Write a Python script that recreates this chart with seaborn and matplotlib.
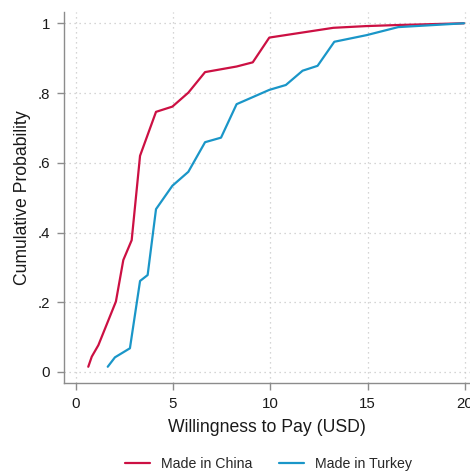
import matplotlib
matplotlib.use("Agg")
import matplotlib.pyplot as plt
from matplotlib.ticker import FixedLocator, FixedFormatter
import seaborn as sns
import pandas as pd

# Empirical CDF of willingness to pay, by stated country of origin
china_wtp = [0.65, 0.83, 1.17, 2.07, 2.45, 2.88, 3.31, 4.13, 4.97, 5.79,
             6.65, 8.27, 9.10, 9.95, 13.24, 14.95, 16.56, 19.95]
china_cdf = [0.015, 0.044, 0.077, 0.202, 0.321, 0.378, 0.620, 0.746, 0.761, 0.801,
             0.860, 0.876, 0.888, 0.959, 0.987, 0.992, 0.995, 1.0]

turkey_wtp = [1.65, 2.02, 2.79, 3.31, 3.70, 4.13, 4.97, 5.79, 6.65, 7.47,
              8.27, 9.95, 10.80, 11.66, 12.43, 13.29, 14.95, 16.57, 19.95]
turkey_cdf = [0.015, 0.042, 0.068, 0.261, 0.278, 0.467, 0.534, 0.574, 0.659, 0.672,
              0.768, 0.809, 0.823, 0.864, 0.878, 0.947, 0.966, 0.989, 1.0]

groups = ["Made in China", "Made in Turkey"]
x_ticks = [0, 5, 10, 15, 20]
x_tick_labels = ["0", "5", "10", "15", "20"]
y_ticks = [0, 0.2, 0.4, 0.6, 0.8, 1.0]
y_tick_labels = ["0", ".2", ".4", ".6", ".8", "1"]

df = pd.concat([
    pd.DataFrame({"wtp": china_wtp, "cdf": china_cdf, "group": groups[0]}),
    pd.DataFrame({"wtp": turkey_wtp, "cdf": turkey_cdf, "group": groups[1]}),
], ignore_index=True)

sns.set_theme(style="white")
plt.rcParams["font.family"] = ["Liberation Sans", "DejaVu Sans"]

fig = plt.figure(figsize=(4.70, 4.71), dpi=100)
ax = fig.add_axes([0.1362, 0.1875, 0.8638, 0.7864])

palette = {groups[0]: "#cc1043", groups[1]: "#1a96c8"}
sns.lineplot(data=df, x="wtp", y="cdf", hue="group", palette=palette,
             estimator=None, sort=True, linewidth=1.6, ax=ax, legend=False)

ax.set_xlim(-0.596, 20.26)
ax.set_ylim(-0.0307, 1.0315)

ax.xaxis.set_major_locator(FixedLocator(x_ticks))
ax.xaxis.set_major_formatter(FixedFormatter(x_tick_labels))
ax.yaxis.set_major_locator(FixedLocator(y_ticks))
ax.yaxis.set_major_formatter(FixedFormatter(y_tick_labels))

grid_kw = dict(color="#c8c8c8", linestyle=(0, (1, 3)), linewidth=0.9)
ax.grid(True, **grid_kw)

for side in ["top", "right"]:
    ax.spines[side].set_visible(False)
for side in ["left", "bottom"]:
    ax.spines[side].set_color("#8c8c8c")
    ax.spines[side].set_linewidth(1.0)

ax.tick_params(axis="both", which="major", direction="out", length=5,
               width=1.0, color="#8c8c8c", labelsize=10.8, labelcolor="#1a1a1a",
               pad=5, left=True, bottom=True)

ax.set_xlabel("Willingness to Pay (USD)", fontsize=12.7, color="#1a1a1a", labelpad=6)
ax.set_ylabel("Cumulative Probability", fontsize=12.7, color="#1a1a1a", labelpad=5)

handles = [plt.Line2D([], [], color=palette[g], linewidth=1.6) for g in groups]
fig.legend(handles, groups, loc="center", bbox_to_anchor=(0.571, 0.014),
           ncol=2, frameon=False, fontsize=10.2, handlelength=1.76,
           columnspacing=1.9, handletextpad=0.77)

fig.savefig("out.png", dpi=100)
